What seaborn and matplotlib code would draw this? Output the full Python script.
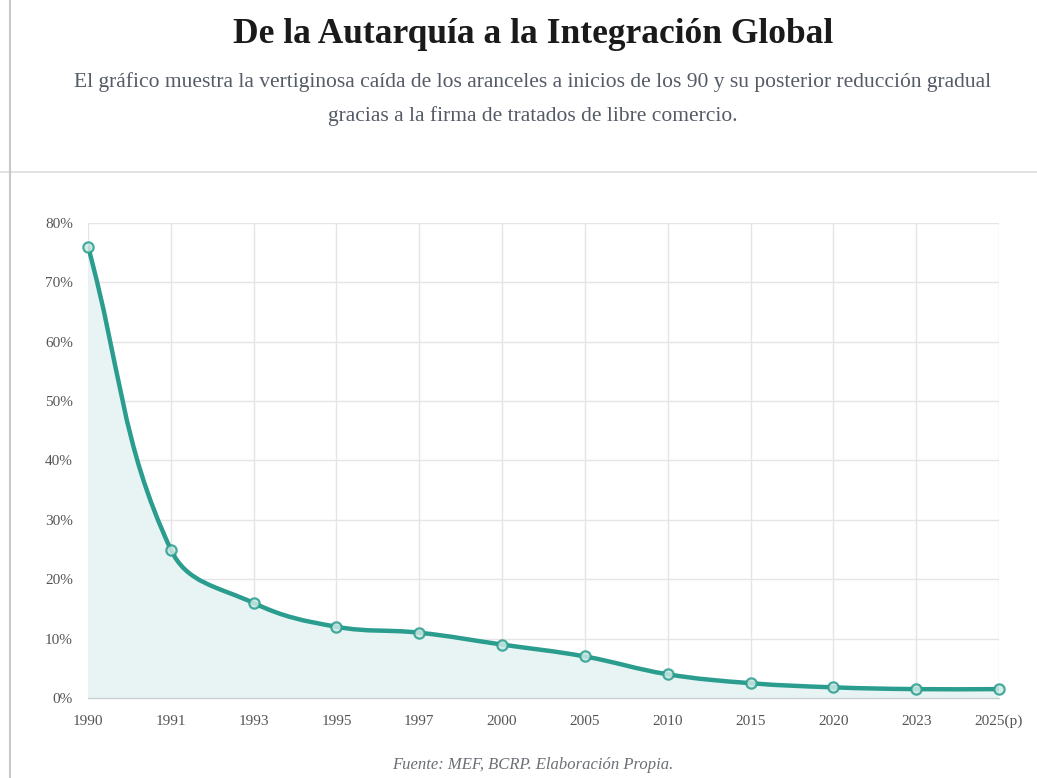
import numpy as np
import matplotlib.pyplot as plt
import seaborn as sns
from matplotlib.path import Path
from matplotlib.patches import PathPatch
from matplotlib.ticker import FuncFormatter
import pandas as pd

# Datos
anios = ['1990', '1991', '1993', '1995', '1997', '2000', '2005', '2010', '2015', '2020', '2023', '2025(p)']
arancel = [76, 25, 16, 12, 11, 9, 7, 4, 2.5, 1.8, 1.5, 1.5]

titulo = 'De la Autarquía a la Integración Global'
subtitulo = ('El gráfico muestra la vertiginosa caída de los aranceles a inicios de los 90 y su posterior reducción gradual\n'
             'gracias a la firma de tratados de libre comercio.')
fuente = 'Fuente: MEF, BCRP. Elaboración Propia.'

VERDE = '#2a9d8f'
RELLENO = '#e8f4f3'
GRIS = '#555555'

df = pd.DataFrame({'pos': np.arange(len(anios)), 'valor': arancel})

sns.set_style('white')
plt.rcParams['font.family'] = ['Liberation Serif', 'DejaVu Serif']

fig = plt.figure(figsize=(10.37, 7.78), dpi=100)
ax = fig.add_axes([0.0849, 0.1028, 0.8784, 0.6106])


def curva_suave(x, y, t=0.4, sx=82.8, sy=5.94):
    # puntos de control tipo Chart.js (tension 0.4), distancias en pixeles
    n = len(x)
    cps = []
    for i in range(n):
        p = (x[max(i - 1, 0)], y[max(i - 1, 0)])
        c = (x[i], y[i])
        nx = (x[min(i + 1, n - 1)], y[min(i + 1, n - 1)])
        d01 = np.hypot((c[0] - p[0]) * sx, (c[1] - p[1]) * sy)
        d12 = np.hypot((nx[0] - c[0]) * sx, (nx[1] - c[1]) * sy)
        tot = d01 + d12 if d01 + d12 > 0 else 1
        fa = t * d01 / tot
        fb = t * d12 / tot
        cp1 = (c[0] - fa * (nx[0] - p[0]), c[1] - fa * (nx[1] - p[1]))
        cp2 = (c[0] + fb * (nx[0] - p[0]), c[1] + fb * (nx[1] - p[1]))
        cps.append((cp1, cp2))
    verts = [(x[0], y[0])]
    codes = [Path.MOVETO]
    for i in range(n - 1):
        verts += [cps[i][1], cps[i + 1][0], (x[i + 1], y[i + 1])]
        codes += [Path.CURVE4] * 3
    return verts, codes


verts, codes = curva_suave(df['pos'].values, df['valor'].values)

# relleno bajo la curva
v_fill = verts + [(df['pos'].iloc[-1], 0), (df['pos'].iloc[0], 0), verts[0]]
c_fill = codes + [Path.LINETO, Path.LINETO, Path.CLOSEPOLY]
ax.add_patch(PathPatch(Path(v_fill, c_fill), facecolor=RELLENO, edgecolor='none', zorder=1))
ax.add_patch(PathPatch(Path(verts, codes), facecolor='none', edgecolor=VERDE, lw=3.2,
                       capstyle='round', joinstyle='round', zorder=3))

sns.scatterplot(data=df, x='pos', y='valor', ax=ax, s=55, color='#cfe9e5',
                edgecolor=VERDE, linewidth=1.6, alpha=0.85, zorder=4, clip_on=False)

ax.set_xlim(0, len(anios) - 1)
ax.set_ylim(0, 80)
ax.set_xticks(df['pos'])
ax.set_xticklabels(anios)
ax.set_yticks(range(0, 81, 10))
ax.yaxis.set_major_formatter(FuncFormatter(lambda v, _: f'{v:.0f}%'))
ax.set_xlabel('')
ax.set_ylabel('')

ax.grid(True, color='#e5e5e8', lw=1)
ax.set_axisbelow(True)
for s in ['top', 'right', 'left']:
    ax.spines[s].set_visible(False)
ax.spines['bottom'].set_color('#c8cfd2')
ax.spines['bottom'].set_linewidth(1)
ax.tick_params(axis='both', length=8, width=1, color='#e5e5e8', labelsize=11,
               labelcolor=GRIS, pad=4)
ax.tick_params(axis='y', pad=3)

# textos
fig.text(0.514, 0.956, titulo, ha='center', va='center', fontsize=25.5, fontweight='bold', color='#1a1a1a')
fig.text(0.514, 0.873, subtitulo, ha='center', va='center', fontsize=15.5, color='#555b66',
         linespacing=1.95)
fig.text(0.514, 0.017, fuente, ha='center', va='center', fontsize=12, style='italic', color='#6b6f76')

# bordes de la tarjeta
fig.add_artist(plt.Line2D([0.0, 1.0], [1 - 172 / 778] * 2, color='#dcdcdc', lw=1.2))
fig.add_artist(plt.Line2D([10 / 1037] * 2, [0, 1], color='#c8c8c8', lw=1.5))

fig.savefig('out.png', dpi=100)
